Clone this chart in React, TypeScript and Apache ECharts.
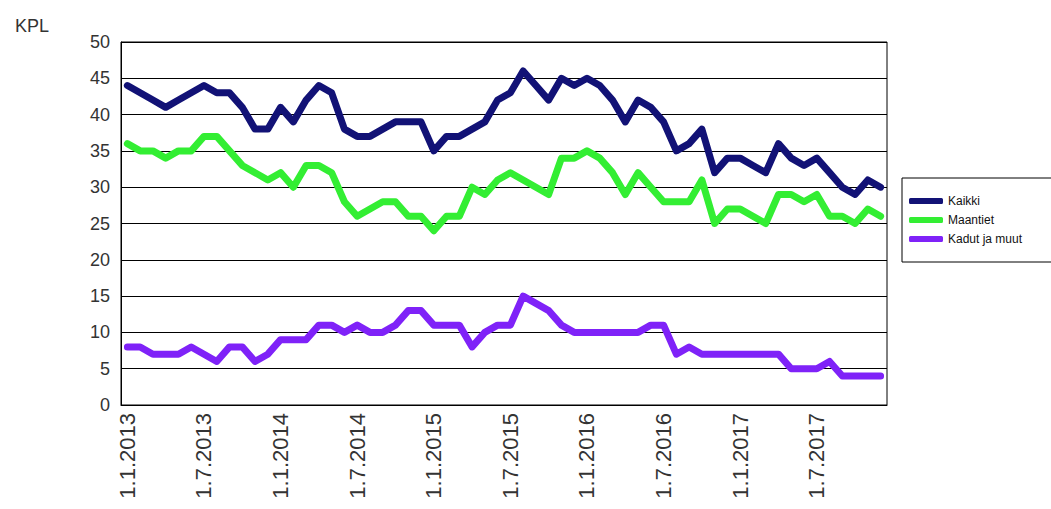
import React, { useEffect, useRef } from "react";
import * as echarts from "echarts";

const years = [2013, 2014, 2015, 2016, 2017];
const months = [1, 2, 3, 4, 5, 6, 7, 8, 9, 10, 11, 12];
const categories: string[] = [];
years.forEach((y) => months.forEach((m) => categories.push(`1.${m}.${y}`)));

const seriesNames = ["Kaikki", "Maantiet", "Kadut ja muut"];

const kaikki = [
  44, 43, 42, 41, 42, 43, 44, 43, 43, 41, 38, 38, 41, 39, 42, 44, 43, 38, 37, 37, 38,
  39, 39, 39, 35, 37, 37, 38, 39, 42, 43, 46, 44, 42, 45, 44, 45, 44, 42, 39, 42,
  41, 39, 35, 36, 38, 32, 34, 34, 33, 32, 36, 34, 33, 34, 32, 30, 29, 31, 30,
];

const maantiet = [
  36, 35, 35, 34, 35, 35, 37, 37, 35, 33, 32, 31, 32, 30, 33, 33, 32, 28, 26, 27, 28,
  28, 26, 26, 24, 26, 26, 30, 29, 31, 32, 31, 30, 29, 34, 34, 35, 34, 32, 29, 32,
  30, 28, 28, 28, 31, 25, 27, 27, 26, 25, 29, 29, 28, 29, 26, 26, 25, 27, 26,
];

const kadut = [
  8, 8, 7, 7, 7, 8, 7, 6, 8, 8, 6, 7, 9, 9, 9, 11, 11, 10, 11, 10, 10, 11, 13, 13, 11, 11, 11, 8, 10, 11,
  11, 15, 14, 13, 11, 10, 10, 10, 10, 10, 10, 11, 11, 7, 8, 7, 7, 7, 7, 7, 7, 7, 5, 5, 5, 6, 4, 4, 4, 4,
];

const colors = ["#121276", "#33ee33", "#7f22f8"];

export default function App() {
  const ref = useRef<HTMLDivElement>(null);
  useEffect(() => {
    if (!ref.current) return;
    const chart = echarts.init(ref.current, null, { renderer: "svg" });
    const font = "Arial, 'Liberation Sans', sans-serif";
    const data = [kaikki, maantiet, kadut];
    chart.setOption({
      animation: false,
      backgroundColor: "#ffffff",
      title: {
        text: "KPL",
        left: 10,
        top: 12,
        textStyle: { fontSize: 18, fontWeight: "normal", color: "#333", fontFamily: font },
      },
      grid: {
        left: 121,
        right: 164,
        top: 42,
        bottom: 104,
        show: true,
        borderColor: "#000",
        borderWidth: 1,
        backgroundColor: "transparent",
      },
      legend: {
        orient: "vertical",
        left: 902,
        top: 178,
        data: seriesNames,
        icon: "roundRect",
        itemWidth: 34,
        itemHeight: 6,
        itemGap: 7,
        padding: [17, 30, 17, 7],
        borderColor: "#000",
        borderWidth: 1,
        textStyle: { fontSize: 12, color: "#111", fontFamily: font },
      },
      xAxis: {
        type: "category",
        data: categories,
        boundaryGap: true,
        axisLine: { show: true, lineStyle: { color: "#000", width: 1 } },
        axisTick: { show: false },
        axisLabel: {
          interval: 5,
          rotate: 90,
          margin: 8,
          fontSize: 22,
          color: "#333",
          fontFamily: font,
        },
        splitLine: { show: false },
      },
      yAxis: {
        type: "value",
        min: 0,
        max: 50,
        interval: 5,
        axisLine: { show: true, lineStyle: { color: "#000", width: 1 } },
        axisTick: { show: false },
        axisLabel: { fontSize: 18, color: "#333", margin: 11, fontFamily: font },
        splitLine: { show: true, lineStyle: { color: "#000", width: 1 } },
      },
      series: seriesNames.map((name, i) => ({
        name,
        type: "line",
        data: data[i],
        symbol: "none",
        color: colors[i],
        lineStyle: { width: 7, color: colors[i], cap: "round", join: "round" },
        z: 3 - i,
      })),
    });
    return () => chart.dispose();
  }, []);
  return (
    <div
      ref={ref}
      style={{ position: "fixed", left: 0, top: 0, width: 1051, height: 509 }}
    />
  );
}
